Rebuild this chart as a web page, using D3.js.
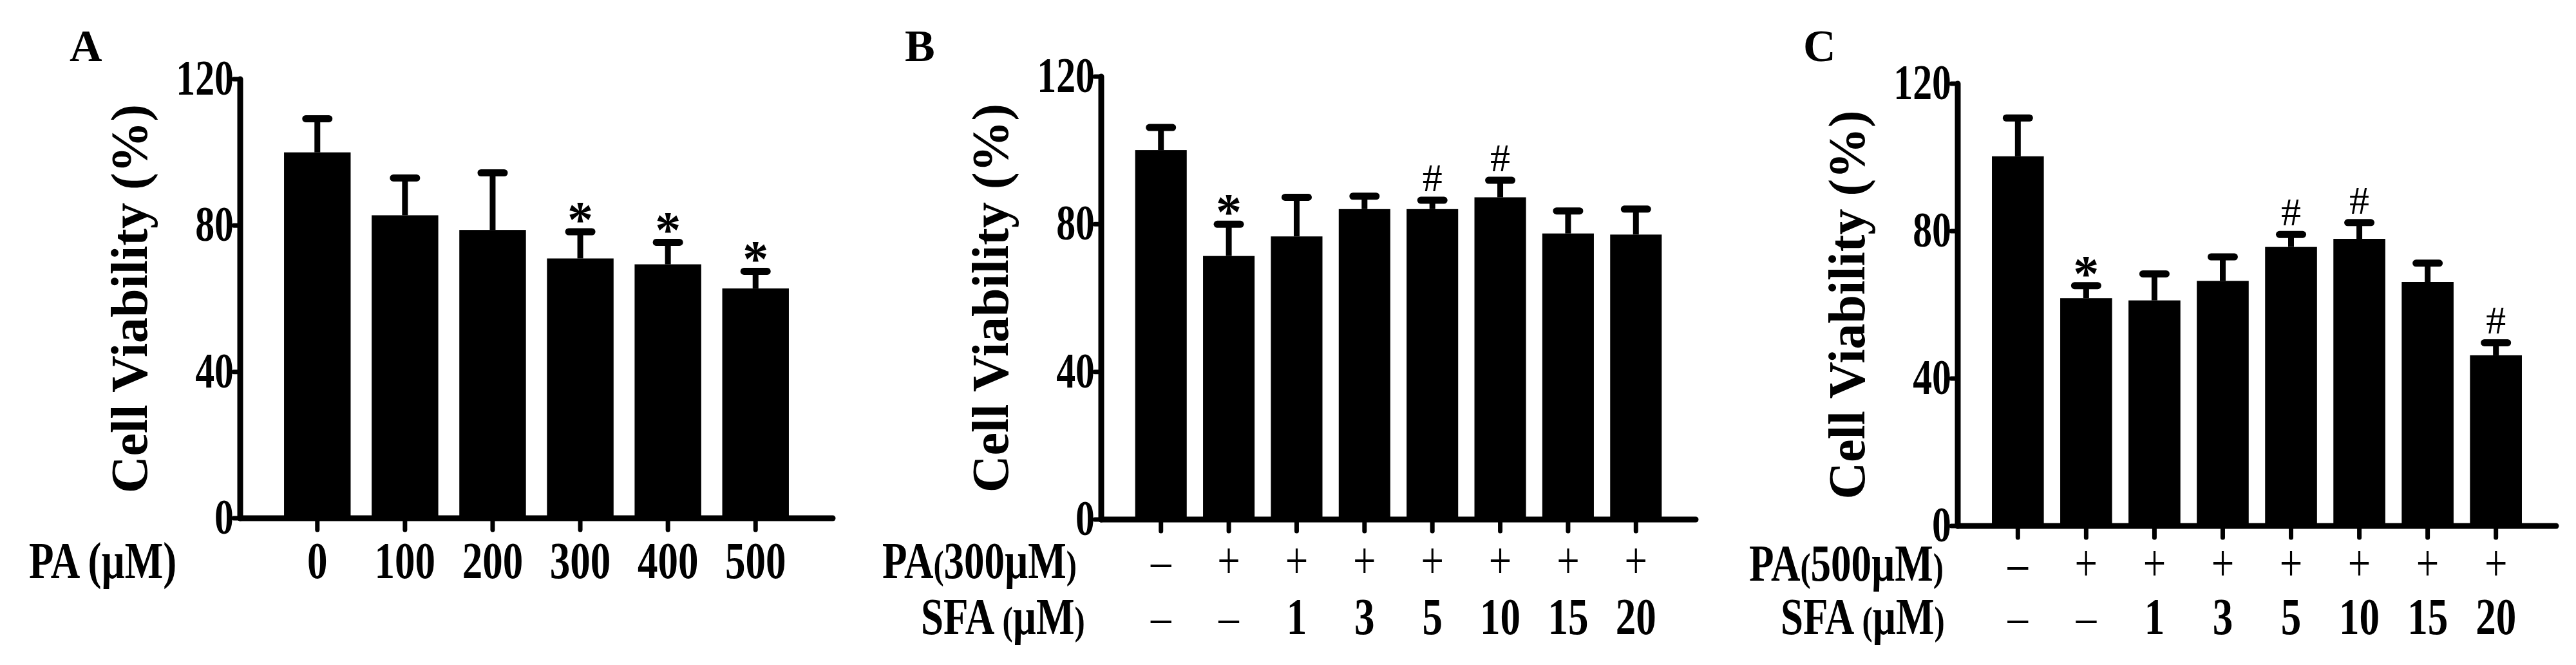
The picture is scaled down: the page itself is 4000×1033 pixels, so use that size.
<!DOCTYPE html>
<html><head><meta charset="utf-8">
<script src="https://cdn.jsdelivr.net/npm/d3@7"></script>
<style>body{margin:0;background:#fff}text{font-family:"Liberation Serif","Times New Roman",serif;font-weight:bold}</style>
</head><body>
<svg id="fig" width="4000" height="1033"></svg>
<script>
// panel A
const catsA = ['0', '100', '200', '300', '400', '500'];
const meanA = [100, 82.8, 78.8, 71, 69.4, 62.8];
const errA = [109.2, 93, 94.4, 78.3, 75.4, 67.5];
const markA = ['', '', '', '*', '*', '*'];
// panel B
const paB = ['–', '+', '+', '+', '+', '+', '+', '+'];
const sfaB = ['–', '–', '1', '3', '5', '10', '15', '20'];
const meanB = [100.1, 71.4, 76.7, 84.1, 84.1, 87.3, 77.5, 77.2];
const errB = [106.2, 80, 87.3, 87.6, 86.5, 91.9, 83.6, 84.1];
const markB = ['', '*', '', '', '#', '#', '', ''];
// panel C
const paC = ['–', '+', '+', '+', '+', '+', '+', '+'];
const sfaC = ['–', '–', '1', '3', '5', '10', '15', '20'];
const meanC = [100.3, 61.8, 61.2, 66.5, 75.7, 77.9, 66.2, 46.3];
const errC = [110.7, 65.2, 68.4, 73, 79.1, 82.3, 71.3, 49.7];
const markC = ['', '*', '', '', '#', '#', '', '#'];
const yTicks = [0, 40, 80, 120];

const svg = d3.select('#fig');

function panel(o) {
  const g = svg.append('g');
  const n = o.mean.length;
  const x = d3.scaleBand().domain(d3.range(n)).range([o.x0, o.x1]).paddingInner(0.24).paddingOuter(0.5);
  const y = d3.scaleLinear().domain([0, 120]).range([o.y0, o.y1]);
  const bw = x.bandwidth();

  g.append('text').attr('x', o.lx).attr('y', 95).attr('font-size', 70).text(o.letter);

  g.selectAll('rect.bar').data(o.mean).join('rect')
    .attr('x', (d, i) => x(i)).attr('width', bw)
    .attr('y', d => y(d)).attr('height', d => y(0) - y(d)).attr('fill', '#000');

  g.selectAll('line.err').data(o.err).join('line')
    .attr('x1', (d, i) => x(i) + bw / 2).attr('x2', (d, i) => x(i) + bw / 2)
    .attr('y1', (d, i) => y(o.mean[i])).attr('y2', d => y(d))
    .attr('stroke', '#000').attr('stroke-width', 9);
  g.selectAll('line.cap').data(o.err).join('line')
    .attr('x1', (d, i) => x(i) + bw / 2 - 18).attr('x2', (d, i) => x(i) + bw / 2 + 18)
    .attr('y1', d => y(d)).attr('y2', d => y(d))
    .attr('stroke', '#000').attr('stroke-width', 11).attr('stroke-linecap', 'round');

  g.selectAll('text.mark').data(o.mark).join('text')
    .attr('x', (d, i) => x(i) + bw / 2).attr('y', (d, i) => y(o.err[i]) - (d === '*' ? -8 : 14))
    .attr('text-anchor', 'middle')
    .attr('font-size', d => d === '*' ? 80 : 62)
    .style('font-weight', d => d === '*' ? 'bold' : 'normal')
    .text(d => d);

  // axes
  g.append('line').attr('x1', o.x0).attr('x2', o.x0).attr('y1', y(0)).attr('y2', y(120))
    .attr('stroke', '#000').attr('stroke-width', 9).attr('stroke-linecap', 'round');
  g.append('line').attr('x1', o.x0).attr('x2', o.x1).attr('y1', y(0)).attr('y2', y(0))
    .attr('stroke', '#000').attr('stroke-width', 9).attr('stroke-linecap', 'round');
  g.selectAll('line.yt').data(yTicks).join('line')
    .attr('x1', o.x0 - 10).attr('x2', o.x0).attr('y1', d => y(d)).attr('y2', d => y(d))
    .attr('stroke', '#000').attr('stroke-width', 7).attr('stroke-linecap', 'round');
  g.selectAll('text.yl').data(yTicks).join('text')
    .attr('text-anchor', 'end').attr('font-size', 68)
    .attr('transform', d => `translate(${o.x0 - 10},${y(d) + 24}) scale(0.88,1.15)`)
    .text(d => d);
  g.selectAll('line.xt').data(d3.range(n)).join('line')
    .attr('x1', i => x(i) + bw / 2).attr('x2', i => x(i) + bw / 2)
    .attr('y1', y(0)).attr('y2', y(0) + 18)
    .attr('stroke', '#000').attr('stroke-width', 7).attr('stroke-linecap', 'round');

  const yl = (y(0) + y(120)) / 2;
  g.append('text').attr('transform', `translate(${o.x0 - 145},${yl}) rotate(-90)`)
    .attr('text-anchor', 'middle').attr('font-size', 80).text('Cell Viability (%)');

  o.rows.forEach(r => {
    g.selectAll(null).data(r.labels).join('text')
      .attr('transform', (d, i) => `translate(${x(i) + bw / 2},${r.y}) scale(0.9,1.15)`)
      .attr('text-anchor', 'middle').attr('font-size', 70)
      .style('font-weight', d => (d === '+' || d === '–') ? 'normal' : 'bold')
      .text(d => d);
    g.append('text').attr('transform', `translate(${r.lx},${r.y}) scale(0.9,1.15)`)
      .attr('font-size', 70).attr('text-anchor', r.anchor || 'start').html(r.title);
  });
}

const P = '<tspan font-size="54">(</tspan>', Q = '<tspan font-size="54">)</tspan>';
panel({ letter: 'A', lx: 108, x0: 373, x1: 1293, y0: 805, y1: 123, mean: meanA, err: errA, mark: markA,
  rows: [{ labels: catsA, y: 898, lx: 45, title: 'PA (µM)' }] });
panel({ letter: 'B', lx: 1405, x0: 1710, x1: 2633, y0: 807, y1: 119, mean: meanB, err: errB, mark: markB,
  rows: [{ labels: paB, y: 898, lx: 1672, anchor: 'end', title: 'PA' + P + '300µM' + Q },
         { labels: sfaB, y: 985, lx: 1430, title: 'SFA ' + P + 'µM' + Q }] });
panel({ letter: 'C', lx: 2800, x0: 3040, x1: 3969, y0: 817, y1: 130, mean: meanC, err: errC, mark: markC,
  rows: [{ labels: paC, y: 902, lx: 3018, anchor: 'end', title: 'PA' + P + '500µM' + Q },
         { labels: sfaC, y: 985, lx: 2765, title: 'SFA ' + P + 'µM' + Q }] });
</script>
</body></html>
